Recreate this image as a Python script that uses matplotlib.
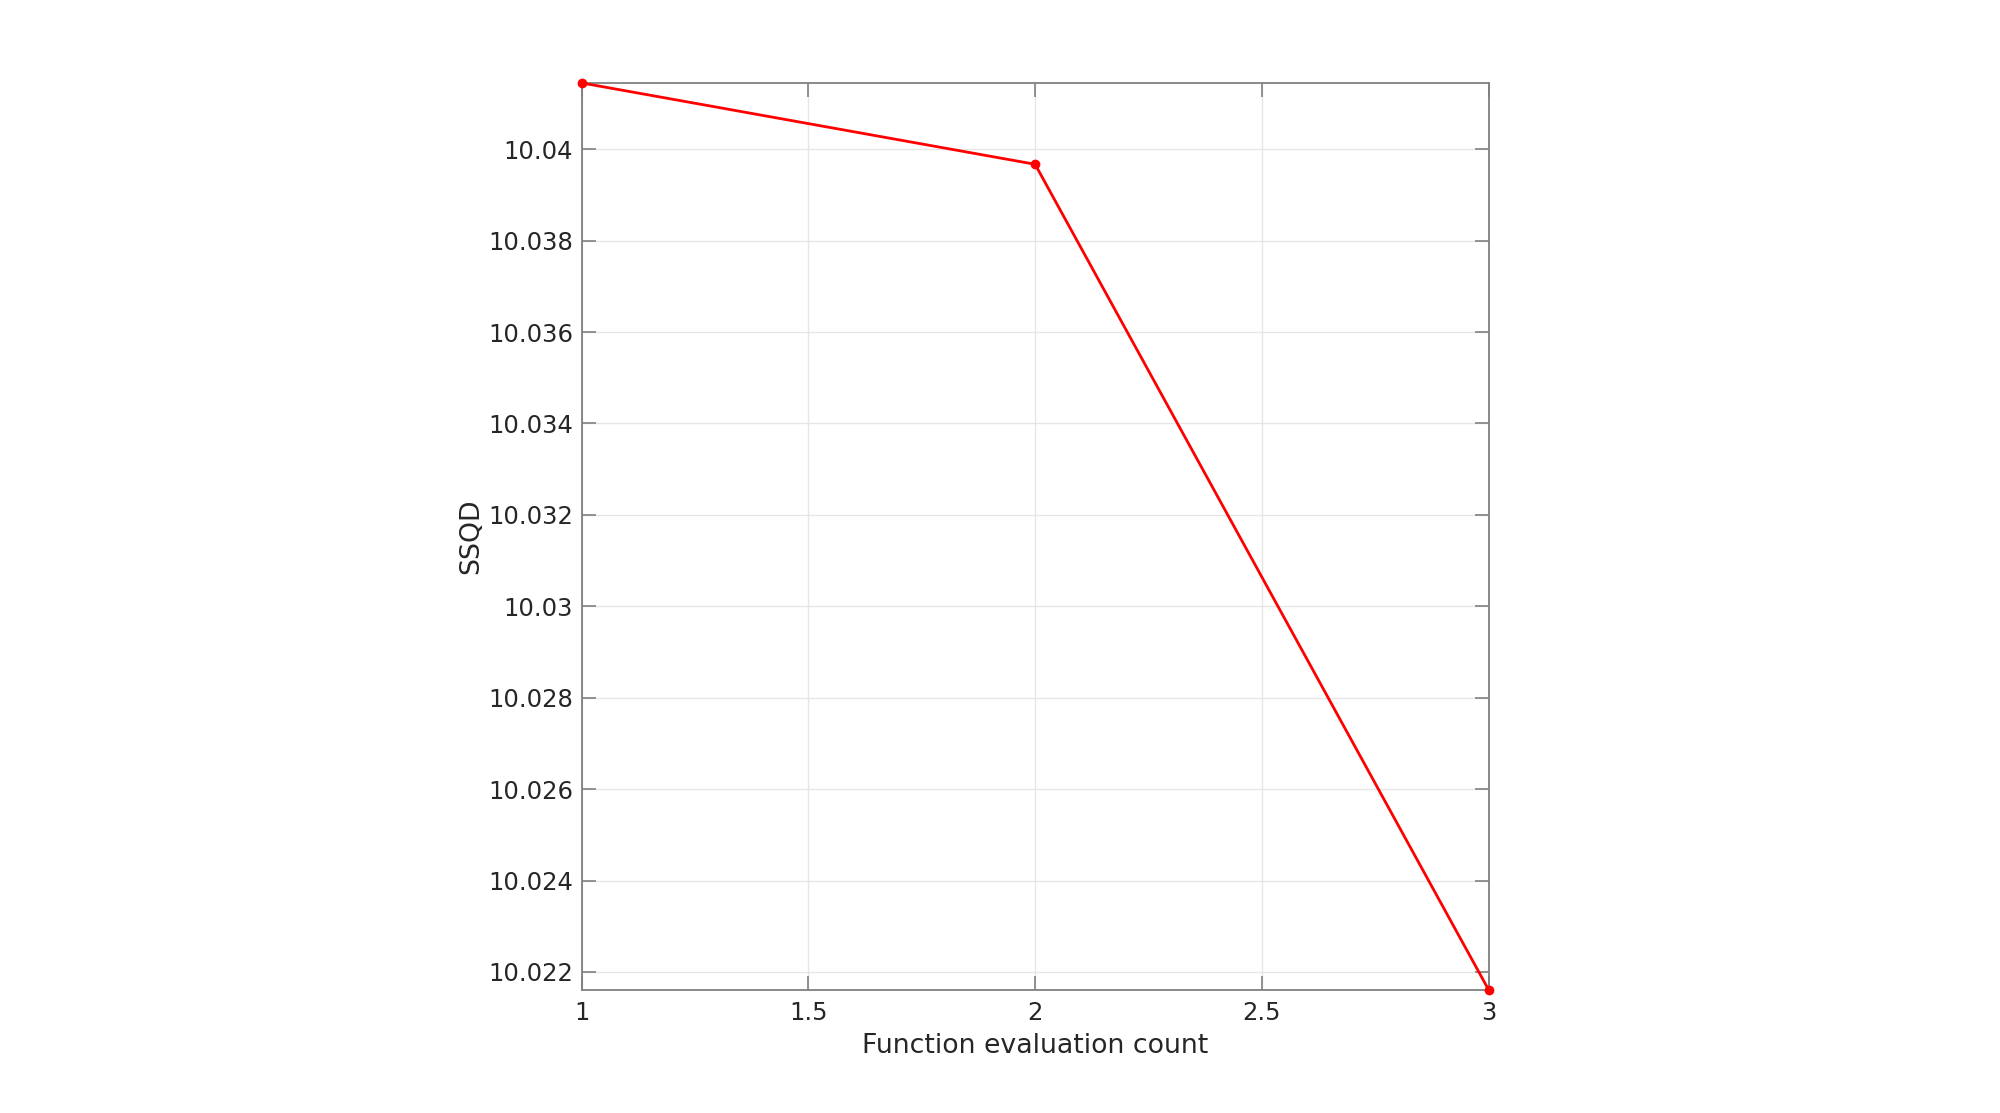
import matplotlib
matplotlib.use("Agg")
import matplotlib.pyplot as plt
import numpy as np

eval_count = [1, 2, 3]
ssqd = [10.04145, 10.03967, 10.02161]
xticks = [1, 1.5, 2, 2.5, 3]
xtick_labels = ["1", "1.5", "2", "2.5", "3"]
yticks = [10.022, 10.024, 10.026, 10.028, 10.03, 10.032, 10.034, 10.036, 10.038, 10.04]
ytick_labels = ["10.022", "10.024", "10.026", "10.028", "10.03", "10.032", "10.034", "10.036", "10.038", "10.04"]

plt.rcParams['font.family'] = ['DejaVu Sans']
fig = plt.figure(figsize=(20, 11.13), dpi=100)
ax = fig.add_axes([0.2908, 0.1107, 0.4535, 0.8148])

ax.plot(eval_count, ssqd, color='#ff0000', linewidth=2, marker='o', markersize=6, clip_on=False, zorder=5)

ax.set_xlim(1, 3)
ax.set_ylim(min(ssqd), max(ssqd))
ax.set_xticks(xticks)
ax.set_xticklabels(xtick_labels)
ax.set_yticks(yticks)
ax.set_yticklabels(ytick_labels)

ax.grid(True, color='#e6e6e6', linewidth=1)
ax.set_axisbelow(True)
for s in ax.spines.values():
    s.set_color('#808080')
    s.set_linewidth(1.3)
ax.tick_params(direction='in', length=10, width=1.2, color='#808080', labelcolor='#262626',
               labelsize=17.5, top=True, right=True)
ax.tick_params(axis='y', pad=6)
ax.tick_params(axis='x', pad=8)
ax.set_xlabel('Function evaluation count', fontsize=19.3, color='#262626', labelpad=6)
ax.set_ylabel('SSQD', fontsize=19.3, color='#262626', labelpad=3)

fig.savefig('out.png', dpi=100, facecolor='white')
